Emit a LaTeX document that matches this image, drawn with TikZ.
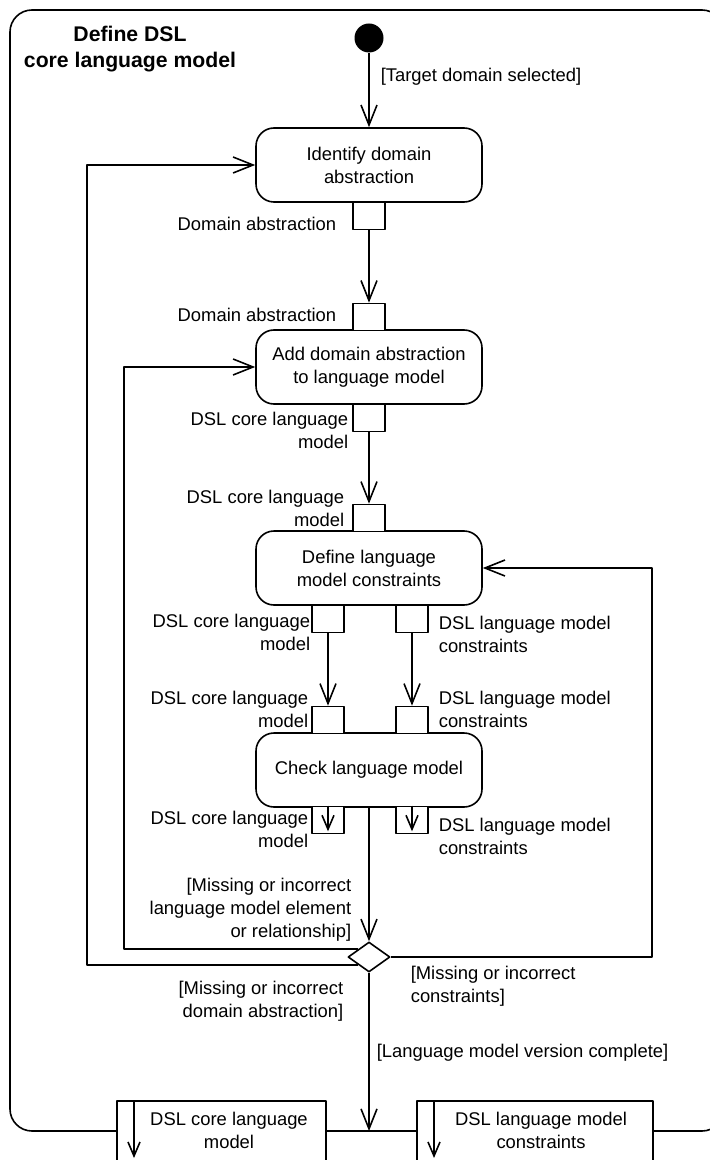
\documentclass[tikz,border=0pt]{standalone}
\usepackage{fontspec}
\setmainfont{Liberation Sans}
\usetikzlibrary{arrows.meta,shapes.geometric}
\begin{document}
\begin{tikzpicture}[x=0.5pt,y=-0.5pt,line join=round,line width=0.8pt,>={Straight Barb[length=10pt,width=8pt]},font=\fontsize{9.2}{11.5}\selectfont]
    \tikzset{action/.style={draw,rounded corners=9pt,minimum width=113pt,minimum height=37pt,align=center,inner sep=0pt}}
    \tikzset{pinbox/.style={draw,fill=white,minimum width=16pt,minimum height=13.5pt,inner sep=0pt}}
    \tikzset{outbox/.style={draw,fill=white,minimum height=37pt,inner sep=0pt,anchor=north west}}
    \tikzset{leftlab/.style={anchor=east,align=right,inner sep=0pt}}
    \tikzset{rightlab/.style={anchor=west,align=left,inner sep=0pt}}
    \tikzset{smallarrow/.style={-{Straight Barb[length=7pt,width=6pt]}}}
    \useasboundingbox (0,0) rectangle (710,1160);
    % frame
    \begin{scope}
        \clip (0,0) rectangle (710,1160);
        \draw[rounded corners=11pt] (10,10) rectangle (724,1131);
    \end{scope}
    \node[font=\fontsize{10.6}{13}\selectfont\bfseries,align=center] (title) at (130,49) {Define DSL\\core language model};
    % actions
    \node[circle,fill,minimum size=14.5pt,inner sep=0pt] (start) at (369,38) {};
    \node[action] (identify) at (369,165) {Identify domain\\abstraction};
    \node[action] (add) at (369,367) {Add domain abstraction\\to language model};
    \node[action] (define) at (369,568) {Define language\\model constraints};
    \node[action] (check) at (369,770) {Check language model};
    \node[diamond,draw,minimum width=21pt,minimum height=15pt,inner sep=0pt] (dec) at (369,957) {};
    % pins
    \node[pinbox] (idOut) at (369,216) {};
    \node[pinbox] (addIn) at (369,317) {};
    \node[pinbox] (addOut) at (369,418) {};
    \node[pinbox] (defIn) at (369,518) {};
    \node[pinbox] (defOutL) at (328,619) {};
    \node[pinbox] (defOutR) at (412,619) {};
    \node[pinbox] (chkInL) at (328,720) {};
    \node[pinbox] (chkInR) at (412,720) {};
    \node[pinbox] (chkOutL) at (328,820) {};
    \node[pinbox] (chkOutR) at (412,820) {};
    \node[leftlab] (idOutLab) at (337,224) {Domain abstraction};
    \node[leftlab] (addInLab) at (337,315) {Domain abstraction};
    \node[leftlab] (addOutLab) at (349,430) {DSL core language\\model};
    \node[leftlab] (defInLab) at (345,508) {DSL core language\\model};
    \node[leftlab] (defOutLLab) at (311,632) {DSL core language\\model};
    \node[rightlab] (defOutRLab) at (438,634) {DSL language model\\constraints};
    \node[leftlab] (chkInLLab) at (309,709) {DSL core language\\model};
    \node[rightlab] (chkInRLab) at (438,709) {DSL language model\\constraints};
    \node[leftlab] (chkOutLLab) at (309,829) {DSL core language\\model};
    \node[rightlab] (chkOutRLab) at (438,836) {DSL language model\\constraints};
    \draw[smallarrow] (chkOutL.north) -- ([yshift=1.5pt]chkOutL.south);
    \draw[smallarrow] (chkOutR.north) -- ([yshift=1.5pt]chkOutR.south);
    % output pins on the frame
    \node[outbox,minimum width=104.5pt] (outCore) at (116,1100) {};
    \node[outbox,minimum width=118pt] (outCons) at (416,1100) {};
    \node[align=center] (outCoreLab) at (229,1130) {DSL core language\\model};
    \node[align=center] (outConsLab) at (541,1130) {DSL language model\\constraints};
    \draw[smallarrow] ([xshift=9pt]outCore.north west) -- ++(0,58);
    \draw[smallarrow] ([xshift=9pt]outCons.north west) -- ++(0,58);
    % flows
    \coordinate (loopA) at (124,367);
    \coordinate (loopB) at (87,165);
    \coordinate (loopC) at (652,568);
    \coordinate (flowEnd) at (369,1131);
    \draw[->] (start) -- (identify);
    \draw[->] (idOut) -- (addIn);
    \draw[->] (addOut) -- (defIn);
    \draw[->] (defOutL) -- (chkInL);
    \draw[->] (defOutR) -- (chkInR);
    \draw[->] (check) -- (dec);
    \draw[->] (dec.north west) -| (loopA) -- (add);
    \draw[->] (dec.south west) -| (loopB) -- (identify);
    \draw[->] (dec.east) -| (loopC) -- (define);
    \draw[->] (dec) -- (flowEnd);
    % guards
    \node[rightlab] (gStart) at (380,77) {[Target domain selected]};
    \node[leftlab] (gElem) at (352,910) {[Missing or incorrect\\language model element\\or relationship]};
    \node[rightlab] (gCons) at (410,986) {[Missing or incorrect\\constraints]};
    \node[leftlab] (gDom) at (344,1001) {[Missing or incorrect\\domain abstraction]};
    \node[rightlab] (gDone) at (376,1053) {[Language model version complete]};
\end{tikzpicture}
\end{document}
